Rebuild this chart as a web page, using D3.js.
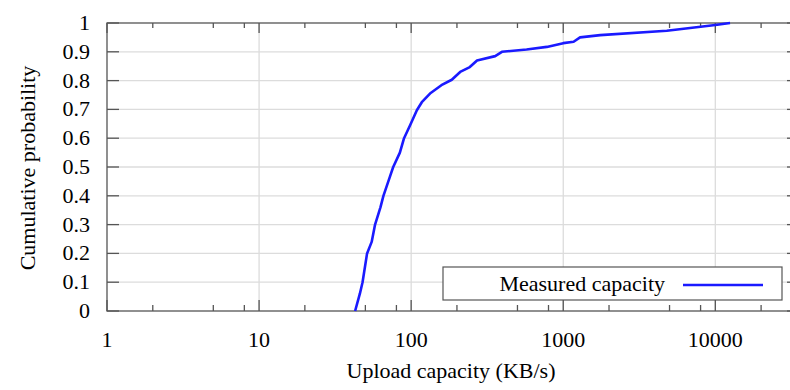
<!DOCTYPE html>
<html>
<head>
<meta charset="utf-8">
<script src="https://cdn.jsdelivr.net/npm/d3@7"></script>
</head>
<body style="margin:0">
<div id="chart"></div>
<script>
// CDF of measured upload capacity (KB/s)
var capacity = [42.8, 46, 47.9, 51.3, 55, 57.9, 62.8, 65.7, 72.9, 76.2, 84.3, 89.8, 98.4, 109, 117.5,
    133, 158, 185, 210, 243, 271, 357, 395, 574, 780, 1000, 1170, 1290, 1750, 4800, 8000, 10000, 12500];
var probability = [0, 0.06, 0.1, 0.2, 0.24, 0.3, 0.36, 0.4, 0.47, 0.5, 0.55, 0.6, 0.645, 0.697, 0.725,
    0.755, 0.784, 0.803, 0.83, 0.847, 0.87, 0.885, 0.9, 0.908, 0.917, 0.93, 0.935, 0.95, 0.958, 0.973, 0.987, 0.993, 1];
var xMajor = [1, 10, 100, 1000, 10000];
var xMinor = [2, 5, 8, 20, 50, 80, 200, 500, 800, 2000, 5000, 8000, 20000];
var yTicks = [0, 0.1, 0.2, 0.3, 0.4, 0.5, 0.6, 0.7, 0.8, 0.9, 1];
var seriesName = "Measured capacity";

(function() {
    var width = 790, height = 390;
    var margin = { top: 23, right: -9, bottom: 79, left: 107 };
    var w = width - margin.left - margin.right,
        h = height - margin.top - margin.bottom;

    var svg = d3.select("#chart").append("svg")
        .attr("width", width)
        .attr("height", height);

    var g = svg.append("g")
        .attr("transform", "translate(" + margin.left + "," + margin.top + ")");

    var x = d3.scaleLog().domain([1, 35500]).range([0, w]);
    var y = d3.scaleLinear().domain([0, 1]).range([h, 0]);

    var axisColor = "#555", gridColor = "#dcdcdc";

    // plain text, aligned by measuring it
    function label(parent, tx, ty, anchor, str) {
        var t = parent.append("text")
            .attr("x", tx).attr("y", ty)
            .attr("font-family", "Liberation Serif")
            .style("font-family", "'Liberation Serif'")
            .style("font-size", "22px")
            .text(str);
        var len = t.node().getComputedTextLength();
        if (anchor === "end") t.attr("x", tx - len);
        if (anchor === "middle") t.attr("x", tx - len / 2);
        return t;
    }

    function ticks(data, x1, y1, x2, y2) {
        g.selectAll(null).data(data).enter().append("line")
            .attr("x1", x1).attr("y1", y1).attr("x2", x2).attr("y2", y2)
            .attr("stroke", axisColor).attr("stroke-width", 1.3);
    }

    // grid
    g.selectAll(".hgrid").data(yTicks.slice(1, -1)).enter().append("line")
        .attr("x1", 0).attr("x2", w)
        .attr("y1", d => y(d)).attr("y2", d => y(d))
        .attr("stroke", gridColor).attr("stroke-width", 1.3);
    g.selectAll(".vgrid").data(xMajor.slice(1)).enter().append("line")
        .attr("x1", d => x(d)).attr("x2", d => x(d))
        .attr("y1", 0).attr("y2", h)
        .attr("stroke", gridColor).attr("stroke-width", 1.3);

    // border
    g.append("rect")
        .attr("x", 0).attr("y", 0).attr("width", w).attr("height", h)
        .attr("fill", "none").attr("stroke", axisColor).attr("stroke-width", 1.3);

    // x ticks, bottom and top
    ticks(xMajor, d => x(d), h, d => x(d), h - 11);
    ticks(xMinor, d => x(d), h, d => x(d), h - 6);
    ticks(xMajor, d => x(d), 0, d => x(d), 10);
    ticks(xMinor, d => x(d), 0, d => x(d), 5);

    // y ticks, left and right
    ticks(yTicks, 0, d => y(d), 12, d => y(d));
    ticks(yTicks, w, d => y(d), w - 12, d => y(d));

    // curve
    var pts = capacity.map((c, i) => [c, probability[i]]);
    g.append("path")
        .datum(pts)
        .attr("fill", "none")
        .attr("stroke", "#1a1aff")
        .attr("stroke-width", 2.6)
        .attr("stroke-linejoin", "round")
        .attr("d", d3.line().x(d => x(d[0])).y(d => y(d[1])));

    // tick labels
    xMajor.forEach(function(d) {
        label(g, x(d), h + 36, "middle", d3.format("d")(d));
    });
    yTicks.forEach(function(d) {
        label(g, -17, y(d) + 7, "end", d3.format("")(d));
    });

    // legend
    var lg = svg.append("g");
    lg.append("rect")
        .attr("x", 443).attr("y", 267).attr("width", 339).attr("height", 33)
        .attr("fill", "#fff").attr("stroke", axisColor).attr("stroke-width", 1.2);
    label(lg, 665, 291, "end", seriesName);
    lg.append("line")
        .attr("x1", 683).attr("x2", 763).attr("y1", 285).attr("y2", 285)
        .attr("stroke", "#1a1aff").attr("stroke-width", 2.6);

    // axis labels
    label(svg, 451, 378, "middle", "Upload capacity (KB/s)");
    label(svg.append("g").attr("transform", "translate(35,168) rotate(-90)"), 0, 0, "middle", "Cumulative probability");
})();
</script>
</body>
</html>
